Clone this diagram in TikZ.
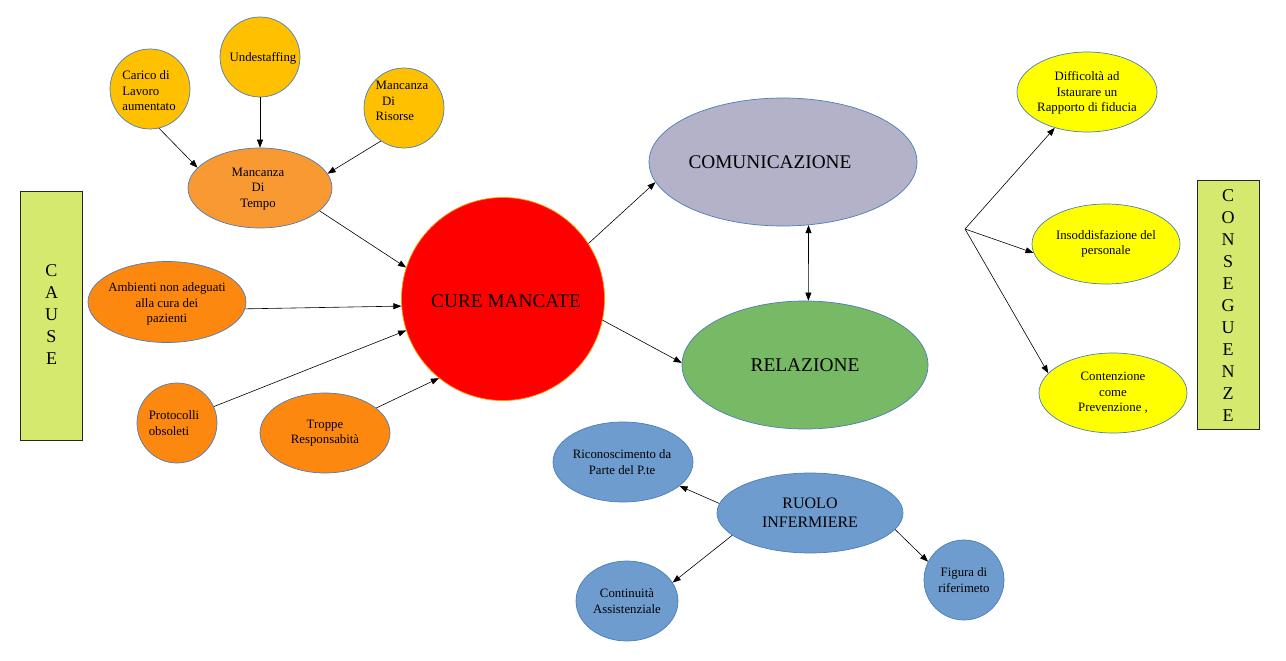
\documentclass[tikz,border=0pt]{standalone}
\usepackage{fontspec}
\setmainfont{Liberation Serif}
\usetikzlibrary{shapes.geometric,arrows.meta}
\definecolor{bordc}{HTML}{4A7EBB}
\definecolor{goldc}{HTML}{FFC000}
\definecolor{tempoc}{HTML}{F89A31}
\definecolor{orac}{HTML}{FD8810}
\definecolor{commc}{HTML}{B4B2C9}
\definecolor{relc}{HTML}{77B964}
\definecolor{bluec}{HTML}{6E9CCF}
\definecolor{yelc}{HTML}{FFFF00}
\definecolor{boxc}{HTML}{D6E96F}
\tikzset{
  bub/.style={ellipse,draw=bordc,line width=0.7pt,inner sep=0pt},
  txt/.style={align=center,inner sep=0pt,font=\fontsize{12.8}{15.5}\selectfont},
  txtl/.style={align=left,inner sep=0pt,font=\fontsize{12.8}{15.5}\selectfont},
  sidebox/.style={draw=black!85,line width=0.8pt,fill=boxc,minimum width=62pt,minimum height=249pt,inner sep=0pt},
  sidetxt/.style={align=center,inner sep=0pt,font=\fontsize{18}{22}\selectfont},
  arr/.style={-{Triangle[length=8pt,width=6pt]},line width=0.6pt},
  darr/.style={{Triangle[length=8pt,width=6pt]}-{Triangle[length=8pt,width=6pt]},line width=0.6pt}
}
\begin{document}
\begin{tikzpicture}[x=1pt,y=-1pt]
\useasboundingbox (0,0) rectangle (1286,661);
% side boxes
\node[sidebox] (cause) at (51.5,315.5) {};
\node[sidetxt] (causeT) at (51.5,315) {C\\A\\U\\S\\E};
\node[sidebox] (cons) at (1228,304.5) {};
\node[sidetxt] (consT) at (1228,306) {C\\O\\N\\S\\E\\G\\U\\E\\N\\Z\\E};
% cause nodes
\node[bub,fill=goldc,minimum width=80pt,minimum height=80pt] (car) at (150,89) {};
\node[txtl] (carT) at (149,91) {Carico di\\Lavoro\\aumentato};
\node[bub,fill=goldc,minimum width=80pt,minimum height=80pt] (und) at (260,57) {};
\node[txt] (undT) at (263,58) {Undestaffing};
\node[bub,fill=goldc,minimum width=80pt,minimum height=80pt] (ris) at (404,108) {};
\node[txtl] (risT) at (402,101) {Mancanza\\\ \ Di\\Risorse};
\node[bub,fill=tempoc,minimum width=144pt,minimum height=80pt] (tempo) at (260,188) {};
\node[txt] (tempoT) at (258,189) {Mancanza\\Di\\Tempo};
\node[bub,fill=orac,minimum width=158pt,minimum height=81pt] (amb) at (167,302) {};
\node[txt] (ambT) at (167,304) {Ambienti non adeguati\\alla cura dei\\pazienti};
\node[bub,fill=orac,minimum width=80pt,minimum height=80pt] (prot) at (177,423) {};
\node[txtl] (protT) at (174,423) {Protocolli\\obsoleti};
\node[bub,fill=orac,minimum width=130pt,minimum height=80pt] (trop) at (325,433) {};
\node[txt] (tropT) at (325,433) {Troppe\\Responsabit\`a};
% center
\node[circle,draw=orange!85!yellow,line width=0.7pt,fill=red,minimum size=203pt,inner sep=0pt] (cure) at (503,299) {};
\node[inner sep=0pt,font=\fontsize{19.3}{22}\selectfont] (cureT) at (506,301) {CURE MANCATE};
\node[bub,fill=commc,minimum width=268pt,minimum height=128pt] (comm) at (783,162) {};
\node[inner sep=0pt,font=\fontsize{19.3}{22}\selectfont] (commT) at (770,162) {COMUNICAZIONE};
\node[bub,fill=relc,minimum width=246pt,minimum height=128pt] (rel) at (805,365) {};
\node[inner sep=0pt,font=\fontsize{19.4}{22}\selectfont] (relT) at (805,365) {RELAZIONE};
% ruolo
\node[bub,fill=bluec,minimum width=140pt,minimum height=80pt] (ric) at (623,462) {};
\node[txt] (ricT) at (622,462) {Riconoscimento da\\Parte del P.te};
\node[bub,fill=bluec,minimum width=186pt,minimum height=80pt] (ruolo) at (810,513) {};
\node[align=center,inner sep=0pt,font=\fontsize{16}{19}\selectfont] (ruoloT) at (810,513) {RUOLO\\INFERMIERE};
\node[bub,fill=bluec,minimum width=102pt,minimum height=80pt] (cont) at (627,601) {};
\node[txt] (contT) at (627,601) {Continuit\`a\\Assistenziale};
\node[bub,fill=bluec,minimum width=80pt,minimum height=80pt] (fig) at (964,580) {};
\node[txt] (figT) at (964,580) {Figura di\\riferimeto};
% conseguenze
\node[bub,fill=yelc,minimum width=140pt,minimum height=80pt] (dif) at (1087,92) {};
\node[txt] (difT) at (1087,93) {Difficolt\`a ad\\Istaurare un\\Rapporto di fiducia};
\node[bub,fill=yelc,minimum width=148pt,minimum height=80pt] (ins) at (1106,244) {};
\node[txt] (insT) at (1106,244) {Insoddisfazione del\\personale};
\node[bub,fill=yelc,minimum width=148pt,minimum height=80pt] (cnt) at (1113,393) {};
\node[txt] (cntT) at (1113,393) {Contenzione\\come\\Prevenzione ,};
\coordinate (fan) at (965,229);
% arrows
\draw[arr] (car.-77) -- (tempo.162);
\draw[arr] (und) -- (tempo);
\draw[arr] (ris.-125) -- (tempo.12.6);
\draw[arr] (tempo.-21.8) -- (cure.162.8);
\draw[arr] (amb.-5) -- (cure.184.5);
\draw[arr] (prot.24) -- (cure.198.6);
\draw[arr] (trop.26) -- (cure.231);
\draw[arr] (cure.33) -- (comm.189.8);
\draw[arr] (cure.-12.6) -- (rel.179);
\draw[darr] (comm.-68) -- (rel.87);
\draw[arr] (fan) -- (dif.-132);
\draw[arr] (fan) -- (ins.187);
\draw[arr] (fan) -- (cnt.163);
\draw[arr] (ruolo.174) -- (ric.-23.7);
\draw[arr] (ruolo.196.7) -- (cont.22.8);
\draw[arr] (ruolo.-11.6) -- (fig.153.4);
\end{tikzpicture}
\end{document}
